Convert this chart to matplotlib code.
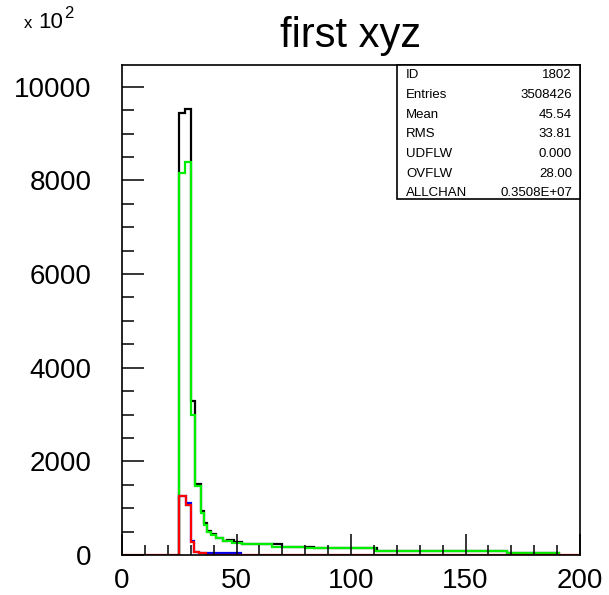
import matplotlib
matplotlib.use("Agg")
import matplotlib.pyplot as plt
from matplotlib.patches import Rectangle
from matplotlib.ticker import MultipleLocator

plt.rcParams['font.family'] = ['Liberation Sans', 'DejaVu Sans']

# ---- data ----
black_edges = [25, 27.7, 30.2, 32.0, 34.5, 36.0, 37.2, 39.0, 41.0, 44.0, 46.0, 49.0,
               52.5, 70.0, 84.0, 111.5, 168.0, 191.0]
black_vals = [9440, 9530, 3290, 1520, 940, 680, 510, 440, 370, 300, 320, 270,
              225, 180, 145, 90, 38]

green_edges = [25, 27.7, 30.2, 32.0, 34.5, 36.0, 37.2, 39.0, 41.0, 44.0, 48.0, 52.5,
               65.5, 80.0, 110.5, 168.0, 191.0]
green_vals = [8150, 8400, 3000, 1470, 900, 650, 500, 430, 360, 300, 260, 225,
              180, 145, 90, 38]

blue_edges = [25, 28.1, 28.8, 30.2, 31.6, 33.6, 38.5, 52.0]
blue_vals = [1260, 1070, 1110, 300, 70, 35, 35]

red_edges = [0, 25, 28.1, 30.2, 31.5, 33.6, 36.7, 200]
red_vals = [0, 1260, 1070, 285, 70, 35, 0]

stat_labels = ["ID", "Entries", "Mean", "RMS", "UDFLW", "OVFLW", "ALLCHAN"]
stat_values = ["1802", "3508426", "45.54", "33.81", "0.000", "28.00", "0.3508E+07"]

x_ticks = [0, 50, 100, 150, 200]
y_ticks = [0, 2000, 4000, 6000, 8000, 10000]
title = "first xyz"

# ---- figure ----
fig = plt.figure(figsize=(6.09, 5.95), dpi=100)
ax = fig.add_axes([122 / 609, 40 / 595, 458 / 609, 490 / 595])

lw = 1.6
ax.stairs(black_vals, black_edges, color="black", linewidth=lw, baseline=0)
ax.stairs(green_vals, green_edges, color="#00ee00", linewidth=lw, baseline=0)
ax.stairs(blue_vals, blue_edges, color="#0000ee", linewidth=lw, baseline=0)
ax.stairs(red_vals, red_edges, color="#ff0000", linewidth=lw, baseline=0)

ax.set_xlim(0, 200)
ax.set_ylim(0, 10463)

ax.set_xticks(x_ticks)
ax.set_yticks(y_ticks)
ax.xaxis.set_minor_locator(MultipleLocator(10))
ax.yaxis.set_minor_locator(MultipleLocator(500))
ax.tick_params(axis="x", which="major", direction="in", length=15, width=1.1,
               labelsize=20, pad=9, top=False)
ax.tick_params(axis="x", which="minor", direction="in", length=7, width=1.1, top=False)
ax.tick_params(axis="y", which="major", direction="in", length=15.5, width=1.1,
               labelsize=20, pad=22, right=False)
ax.tick_params(axis="y", which="minor", direction="in", length=8.4, width=1.1, right=False)
for s in ax.spines.values():
    s.set_linewidth(1.2)

# title and multiplier
fig.text(351 / 609, 1 - 47 / 595, title, ha="center", va="baseline", fontsize=30)
fig.text(24 / 609, 1 - 28 / 595, "x", ha="left", va="baseline", fontsize=12)
fig.text(38 / 609, 1 - 28 / 595, "10", ha="left", va="baseline", fontsize=16)
fig.text(64 / 609, 1 - 18 / 595, "2", ha="left", va="baseline", fontsize=12)

# stats box
def ay(py):
    return (555 - py) / 490

box_left = (397 - 122) / 458
ax.add_patch(Rectangle((box_left, ay(199)), 1 - box_left, 1 - ay(199),
                       transform=ax.transAxes, facecolor="white",
                       edgecolor="black", linewidth=1.2, zorder=5, clip_on=False))
row_y = [75, 95, 115, 134, 154, 174, 193]
for lab, val, py in zip(stat_labels, stat_values, row_y):
    ax.text((406 - 122) / 458, ay(py), lab, transform=ax.transAxes, ha="left",
            va="center", fontsize=9.5, zorder=6)
    ax.text((572 - 122) / 458, ay(py), val, transform=ax.transAxes, ha="right",
            va="center", fontsize=9.5, zorder=6)

fig.savefig("out.png", dpi=100, facecolor="white")
